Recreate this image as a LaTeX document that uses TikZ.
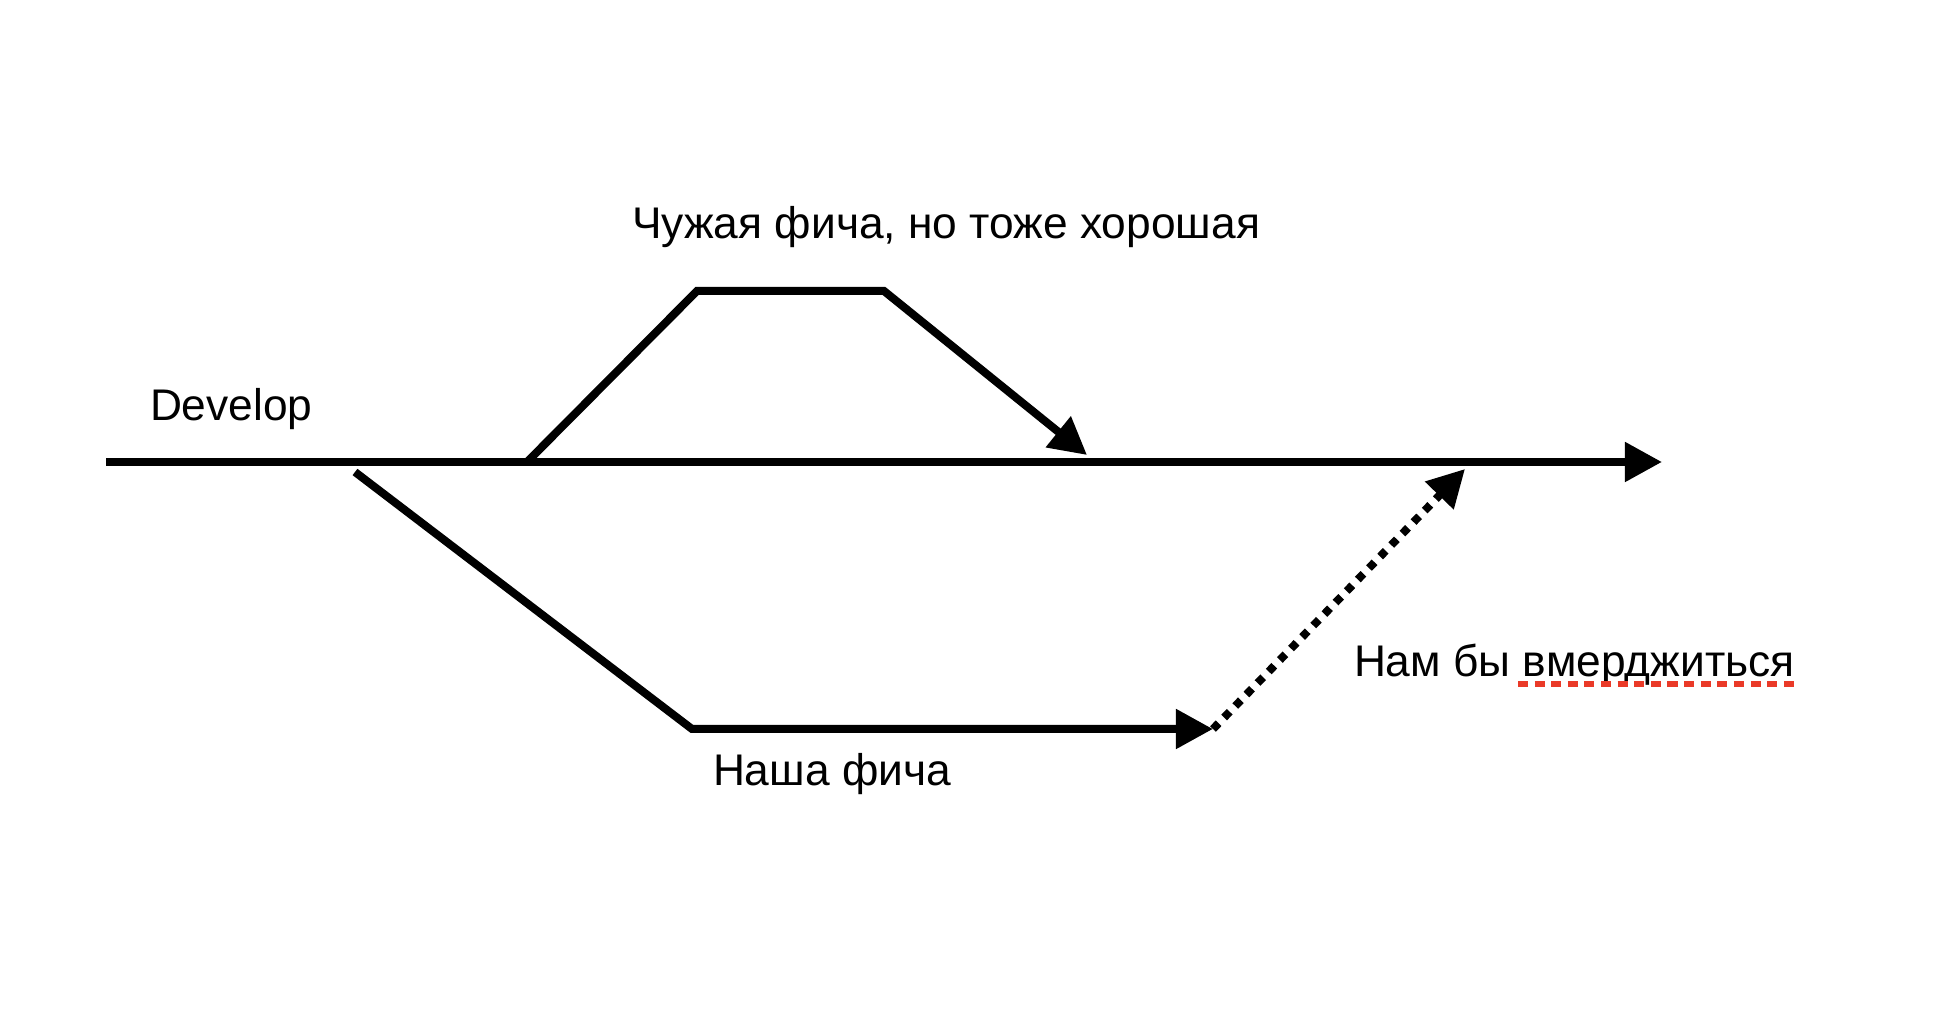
\documentclass[tikz,border=0pt]{standalone}
\usepackage{fontspec}
\setmainfont{Liberation Sans}
\usetikzlibrary{arrows.meta}

\definecolor{spellred}{RGB}{234,58,40}

\begin{document}
\begin{tikzpicture}[x=0.01cm, y=-0.01cm, line width=0.08cm,
    every node/.style={inner sep=0pt, anchor=base west, font=\fontsize{12.6}{15}\selectfont},
    flow/.style={-{Triangle[length=0.37cm, width=0.38cm]}},
    merge/.style={flow, dash pattern=on 0.08cm off 0.08cm},
    typo/.style={spellred, line width=0.06cm, dash pattern=on 0.1cm off 0.066cm}]
          \useasboundingbox (0,0) rectangle (1944,1016);

          % develop
          \coordinate (d0) at (106,462);
          \coordinate (d1) at (1662,462);
          % someone else's feature
          \coordinate (a0) at (527,462);
          \coordinate (a1) at (697,291);
          \coordinate (a2) at (884,291);
          \coordinate (a3) at (1087,455);
          % our feature
          \coordinate (b0) at (355,472);
          \coordinate (b1) at (692,729);
          \coordinate (b2) at (1213,729);
          \coordinate (m1) at (1465,469);

          \node (develop) at (146,421) {Develop};
          \node (theirs) at (628,239) {Чужая фича, но тоже хорошая};
          \node (ours) at (709,786) {Наша фича};
          \node (wish) at (1350,677) {Нам бы вмерджиться};
          \coordinate (u0) at (1518,684);
          \coordinate (u1) at (1800,684);

          \draw[flow] (d0) -- (d1);
          \draw[flow] (a0) -- (a1) -- (a2) -- (a3);
          \draw[flow] (b0) -- (b1) -- (b2);
          \draw[merge] (b2) -- (m1);
          \draw[typo] (u0) -- (u1);
        \end{tikzpicture}
\end{document}
